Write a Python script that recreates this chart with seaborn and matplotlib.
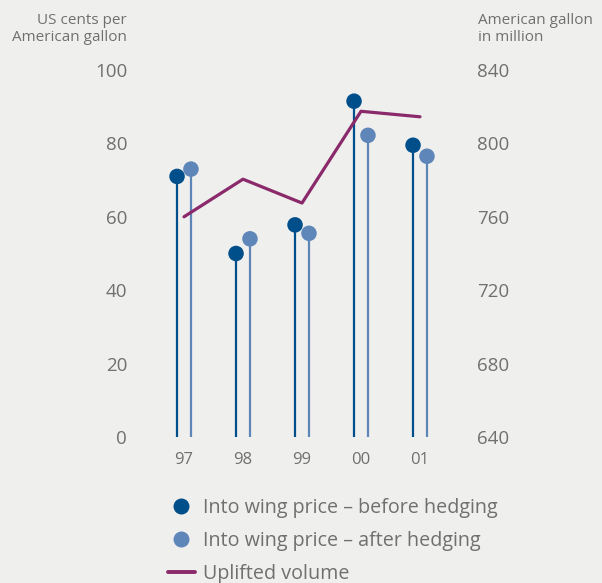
import matplotlib
matplotlib.use("Agg")
import matplotlib.pyplot as plt
from matplotlib.lines import Line2D
import numpy as np
import pandas as pd
import seaborn as sns

# Jet fuel into-wing price (US cents per gallon) and uplifted volume (million gallons)
years = ["97", "98", "99", "00", "01"]
price_before = [71, 50, 57.8, 91.5, 79.5]
price_after = [73, 54, 55.5, 82.2, 76.5]
volume = [760, 780.5, 767.5, 817.5, 814.5]

left_ticks = [0, 20, 40, 60, 80, 100]
right_ticks = [640, 680, 720, 760, 800, 840]

BG = "#efefee"
DARK = "#004f8a"
LIGHT = "#5e86b8"
PURPLE = "#8a2a6a"
TXT = "#707070"

sns.set_theme(style="white")
plt.rcParams["font.family"] = ["Open Sans", "DejaVu Sans"]

W, H = 602, 583
fig = plt.figure(figsize=(W / 100, H / 100), dpi=100, facecolor=BG)
ax = fig.add_axes([136.8 / W, (H - 437) / H, 330.4 / W, 367 / H])
ax.set_facecolor(BG)

pos = np.arange(len(years))
off = 0.118
df = pd.DataFrame({
    "year": years,
    "pos": pos,
    "before": price_before,
    "after": price_after,
    "volume": volume,
})
df["xb"] = df["pos"] - off
df["xa"] = df["pos"] + off

# stems from the zero line up to each price
ax.vlines(df["xb"], 0, df["before"], color=DARK, lw=1.6, zorder=2)
ax.vlines(df["xa"], 0, df["after"], color=LIGHT, lw=1.6, zorder=2)
sns.scatterplot(data=df, x="xb", y="before", ax=ax, color=DARK, s=125,
                edgecolor="none", zorder=3, legend=False)
sns.scatterplot(data=df, x="xa", y="after", ax=ax, color=LIGHT, s=125,
                edgecolor="none", zorder=3, legend=False)

ax.set_xlim(-0.8, 4.8)
ax.set_ylim(0, 100)
ax.set_yticks(left_ticks)
ax.set_yticklabels([str(t) for t in left_ticks])
ax.set_xticks(pos)
ax.set_xticklabels(years)
ax.tick_params(axis="y", length=0, pad=7, labelsize=13.5, labelcolor=TXT)
ax.tick_params(axis="x", length=0, pad=11, labelsize=12, labelcolor=TXT)
ax.set_xlabel("")
ax.set_ylabel("")
for s in ax.spines.values():
    s.set_visible(False)

# secondary axis for volume
ax2 = ax.twinx()
sns.lineplot(data=df, x="pos", y="volume", ax=ax2, color=PURPLE, lw=2.3,
             legend=False, zorder=4)
ax2.set_ylim(640, 840)
ax2.set_yticks(right_ticks)
ax2.set_yticklabels([str(t) for t in right_ticks])
ax2.tick_params(axis="y", length=0, pad=7, labelsize=13.5, labelcolor=TXT)
ax2.set_xlabel("")
ax2.set_ylabel("")
for s in ax2.spines.values():
    s.set_visible(False)
ax.set_xlim(-0.8, 4.8)

fig.text(127 / W, 1 - 13 / H, "US cents per\nAmerican gallon", ha="right",
         va="top", fontsize=11, color=TXT, linespacing=1.2)
fig.text(478 / W, 1 - 13 / H, "American gallon\nin million", ha="left",
         va="top", fontsize=11, color=TXT, linespacing=1.2)

handles = [
    Line2D([], [], ls="none", marker="o", ms=11.5, color=DARK, mec="none"),
    Line2D([], [], ls="none", marker="o", ms=11.5, color=LIGHT, mec="none"),
    Line2D([], [], color=PURPLE, lw=2.8),
]
labels = ["Into wing price \u2013 before hedging",
          "Into wing price \u2013 after hedging",
          "Uplifted volume"]
fig.legend(handles, labels, loc="upper left",
           bbox_to_anchor=(168 / W, 1 - 498 / H), frameon=False,
           fontsize=14.2, labelcolor=TXT, handlelength=1.35,
           handletextpad=0.4, labelspacing=0.66, borderpad=0,
           borderaxespad=0)

fig.savefig("out.png", dpi=100, facecolor=BG)
